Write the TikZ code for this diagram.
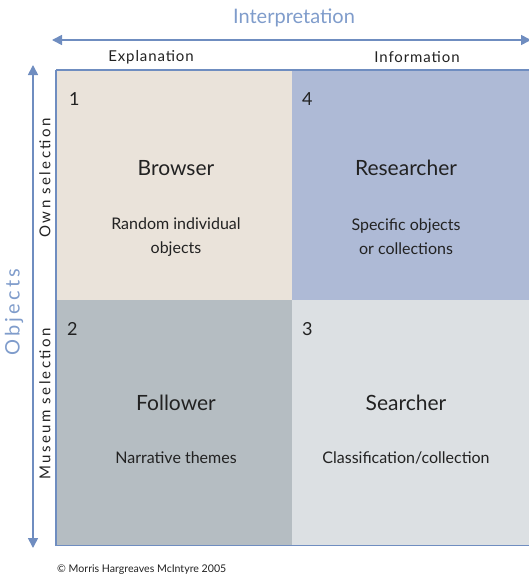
\documentclass[tikz,border=0pt]{standalone}
\usepackage{fontspec}
\setmainfont{Lato}
\newfontfamily\widefont[LetterSpace=16]{Lato}
\newfontfamily\loosefont[LetterSpace=6]{Lato}
\usetikzlibrary{positioning,arrows.meta}
\definecolor{framec}{HTML}{6F8DC0}
\definecolor{axisc}{HTML}{7F9CCB}
\definecolor{qbeige}{HTML}{EAE3DA}
\definecolor{qblue}{HTML}{AEBAD6}
\definecolor{qgrey}{HTML}{B5BDC2}
\definecolor{qlight}{HTML}{DCE0E3}
\definecolor{inkc}{HTML}{222222}
\tikzset{
  quad/.style={draw=none,minimum width=236pt,minimum height=230pt,inner sep=0pt,anchor=north west},
  axis/.style={draw=framec,line width=1.6pt,{Triangle[length=10pt,width=10pt]}-{Triangle[length=10pt,width=10pt]}},
  axislabel/.style={text=axisc,font=\fontsize{20}{22}\selectfont},
  sidelabel/.style={text=inkc,font=\loosefont\fontsize{15}{17}\selectfont},
  vsidelabel/.style={text=inkc,font=\widefont\fontsize{15}{17}\selectfont,rotate=90},
  numlabel/.style={text=inkc,font=\fontsize{18}{20}\selectfont,anchor=north west,inner sep=0pt},
  title/.style={text=inkc,font=\fontsize{21}{23}\selectfont},
  desc/.style={text=inkc,font=\fontsize{16}{24}\selectfont,align=center}
}
\begin{document}
\begin{tikzpicture}[x=1pt,y=-1pt]
	\useasboundingbox (0,0) rectangle (529,578);
	%% quadrants
	\node[quad,fill=qbeige] (q1) at (56,70) {};
	\node[quad,fill=qblue,minimum width=245pt] (q4) at (292,70) {};
	\node[quad,fill=qgrey,minimum height=245pt] (q2) at (56,300) {};
	\node[quad,fill=qlight,minimum width=245pt,minimum height=245pt] (q3) at (292,300) {};
	\draw[framec,line width=1.8pt] (q1.north west) -- (q4.north east);
	\draw[framec,line width=1.8pt] (q1.north west) -- (q2.south west) -- (q3.south east);
	%% axes
	\coordinate (hl) at (52,40);
	\coordinate (hr) at (531,40);
	\coordinate (vt) at (33,65);
	\coordinate (vb) at (33,548);
	\draw[axis] (hl) -- (hr);
	\draw[axis] (vt) -- (vb);
	\node[axislabel] (interp) at (294,18) {Interpretation};
	\node[axislabel,font=\widefont\fontsize{20}{22}\selectfont,rotate=90] (objs) at (14,312) {Objects};
	\node[sidelabel] (expl) at (151,57) {Explanation};
	\node[sidelabel] (info) at (417,57) {Information};
	\node[vsidelabel] (own) at (45,178) {Own selection};
	\node[vsidelabel] (mus) at (45,404) {Museum selection};
	%% numbers
	\node[numlabel] (n1) at (69,92) {1};
	\node[numlabel] (n4) at (302,92) {4};
	\node[numlabel] (n2) at (67,322) {2};
	\node[numlabel] (n3) at (302,322) {3};
	%% titles and texts
	\node[title] (browser) at (176,168) {Browser};
	\node[desc] (browserd) at (176,237) {Random individual\\objects};
	\node[title] (research) at (406,168) {Researcher};
	\node[desc] (researchd) at (406,237) {Specific objects\\or collections};
	\node[title] (follow) at (176,403) {Follower};
	\node[desc] (followd) at (176,458) {Narrative themes};
	\node[title] (search) at (406,403) {Searcher};
	\node[desc] (searchd) at (406,458) {Classification/collection};
	\node[text=inkc,font=\fontsize{10.6}{13}\selectfont,anchor=west,inner sep=0pt] (copy) at (57,570) {\textcopyright{} Morris Hargreaves McIntyre 2005};
\end{tikzpicture}
\end{document}
